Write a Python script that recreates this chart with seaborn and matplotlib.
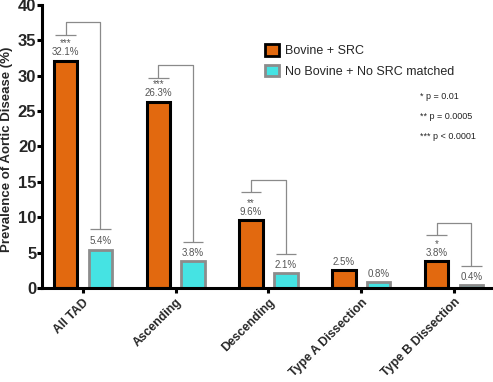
import matplotlib
matplotlib.use("Agg")
import matplotlib.pyplot as plt
from matplotlib.patches import Patch
import pandas as pd
import seaborn as sns

categories = ["All TAD", "Ascending", "Descending", "Type A Dissection", "Type B Dissection"]
groups = ["Bovine + SRC", "No Bovine + No SRC matched"]
bovine_src = [32.1, 26.3, 9.6, 2.5, 3.8]
no_bovine = [5.4, 3.8, 2.1, 0.8, 0.4]
stars = ["***", "***", "**", "", "*"]
# significance brackets: left foot, top, right foot (None = no bracket)
bracket_left = [35.7, 29.7, 13.5, None, 7.5]
bracket_top = [37.6, 31.5, 15.3, None, 9.2]
bracket_right = [8.3, 6.5, 4.8, None, 3.1]
p_notes = ["* p = 0.01", "** p = 0.0005", "*** p < 0.0001"]

ORANGE = "#E2690F"
CYAN = "#45E3E3"

sns.set_style("ticks")
plt.rcParams["font.family"] = ["Liberation Sans", "DejaVu Sans"]

df = pd.DataFrame({
    "category": categories * 2,
    "group": [groups[0]] * len(categories) + [groups[1]] * len(categories),
    "value": bovine_src + no_bovine,
})

fig = plt.figure(figsize=(4.93, 3.82), dpi=100)
ax = fig.add_axes([0.085, 0.246, 0.915, 0.741])

sns.barplot(
    data=df, x="category", y="value", hue="group", hue_order=groups,
    palette={groups[0]: ORANGE, groups[1]: CYAN}, saturation=1,
    width=0.75, gap=0.33, errorbar=None, legend=False, ax=ax,
)

for bar in ax.containers[0]:
    bar.set_edgecolor("black")
    bar.set_linewidth(2.2)
for bar in ax.containers[1]:
    bar.set_edgecolor("#8c8c8c")
    bar.set_linewidth(2.0)

ax.bar_label(ax.containers[0], labels=[f"{v}%" for v in bovine_src],
             padding=2.5, fontsize=7, color="#555555")
ax.bar_label(ax.containers[1], labels=[f"{v}%" for v in no_bovine],
             padding=2.5, fontsize=7, color="#555555")
ax.bar_label(ax.containers[0], labels=stars, padding=9, fontsize=7, color="#555555")

# brackets
foot = 0.11
for i in range(len(categories)):
    if bracket_top[i] is None:
        continue
    b0 = ax.containers[0][i]
    b1 = ax.containers[1][i]
    x0 = b0.get_x() + b0.get_width() / 2
    x1 = b1.get_x() + b1.get_width() / 2
    kw = dict(color="#8a8a8a", lw=0.9, solid_capstyle="butt")
    ax.plot([x0 - foot, x0 + foot], [bracket_left[i]] * 2, **kw)
    ax.plot([x1 - foot, x1 + foot], [bracket_right[i]] * 2, **kw)
    ax.plot([x0, x0, x1, x1],
            [bracket_left[i], bracket_top[i], bracket_top[i], bracket_right[i]], **kw)

ax.set_xlim(-0.442, 4.42)
ax.set_ylim(0, 40)
ax.set_yticks(range(0, 41, 5))
ax.set_xlabel("")
ax.set_ylabel("Prevalence of Aortic Disease (%)", fontsize=9.5, fontweight="bold")
ax.yaxis.set_label_coords(-0.064, 0.49)
ax.set_xticks(range(len(categories)))
ax.set_xticklabels(categories, rotation=45, ha="right", rotation_mode="anchor",
                   fontsize=8.8, fontweight="bold")
for lab in ax.get_yticklabels():
    lab.set_fontweight("bold")
    lab.set_fontsize(12)
ax.tick_params(axis="both", width=2.2, length=3.5, color="black")
ax.tick_params(axis="y", pad=0.5)
ax.tick_params(axis="x", pad=2.5)

sns.despine(ax=ax)
for side in ["left", "bottom"]:
    ax.spines[side].set_linewidth(2.2)
    ax.spines[side].set_color("black")

handles = [
    Patch(facecolor=ORANGE, edgecolor="black", linewidth=2.0),
    Patch(facecolor=CYAN, edgecolor="#8c8c8c", linewidth=2.0),
]
ax.legend(handles, groups, loc="upper left", bbox_to_anchor=(0.484, 0.878),
          frameon=False, fontsize=9, handlelength=1.1, handleheight=1.0,
          handletextpad=0.5, labelspacing=0.6, borderaxespad=0)

for k, note in enumerate(p_notes):
    ax.text(0.838, 0.675 - k * 0.069, note, transform=ax.transAxes,
            fontsize=6.5, va="center", ha="left", color="#222222")

fig.savefig("out.png", dpi=100)
